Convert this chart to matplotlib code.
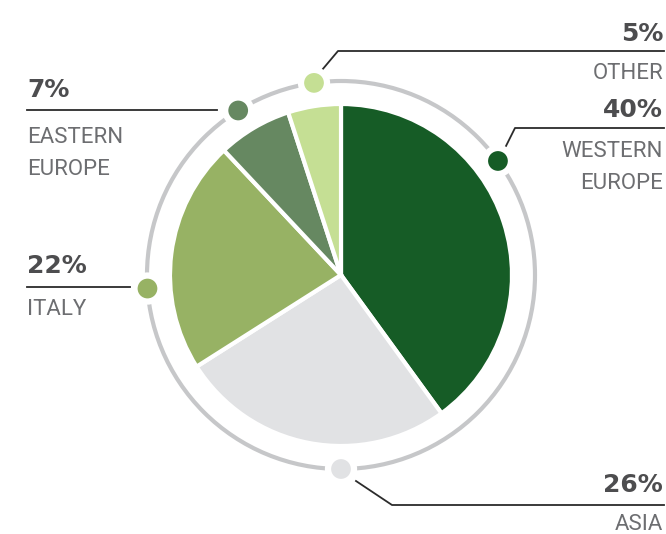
import numpy as np
import matplotlib.pyplot as plt
from matplotlib.patches import Circle

regions = ["WESTERN\nEUROPE", "ASIA", "ITALY", "EASTERN\nEUROPE", "OTHER"]
shares = [40, 26, 22, 7, 5]
colors = ["#165c26", "#e1e2e4", "#97b264", "#668861", "#c5df94"]

H = 534
fig = plt.figure(figsize=(6.66, 5.34), dpi=100)
ax = fig.add_axes([0, 0, 1, 1])

cx, cy, r = 341, H - 275, 171
ax.pie(shares, colors=colors, startangle=90, counterclock=False,
       center=(cx, cy), radius=r,
       wedgeprops=dict(edgecolor="white", linewidth=3))

# outer ring
ring_r = 194
ax.add_patch(Circle((cx, cy), ring_r, fill=False, edgecolor="#c6c7c9", linewidth=3, zorder=3))

# marker angles on the ring (degrees) and leader lines / labels (pixel coords)
dot_ang = [36, 270, 184, 122, 98]
leaders = [
    [(506, 146), (515, 128), (664, 128)],
    [(356, 481), (392, 505), (664, 505)],
    [(130, 287), (27, 287)],
    [(217, 110), (27, 110)],
    [(322, 70), (338, 51), (664, 51)],
]
# (x, baseline of pct, baseline of name, align)
text_pos = [
    (663, 117, 157, "right"),
    (663, 492, 530, "right"),
    (27, 273, 315, "left"),
    (27, 97, 143, "left"),
    (663, 41, 79, "right"),
]

for name, val, col, a, pts, tp in zip(regions, shares, colors, dot_ang, leaders, text_pos):
    t = np.deg2rad(a)
    dx, dy = cx + ring_r * np.cos(t), cy + ring_r * np.sin(t)
    ax.add_patch(Circle((dx, dy), 13, facecolor=col, edgecolor="white", linewidth=4.5, zorder=4))
    xs = [p[0] for p in pts]
    ys = [H - p[1] for p in pts]
    ax.plot(xs, ys, color="#2b2b2b", linewidth=1.3, zorder=2)
    x, yb1, yb2, ha = tp
    ax.text(x, H - yb1, f"{val}%", ha=ha, va="baseline", fontsize=18,
            fontweight="bold", color="#4d4d4f")
    lines = name.split("\n")
    for k, ln in enumerate(lines):
        ax.text(x, H - yb2 - 32 * k, ln, ha=ha, va="baseline", fontsize=16,
                family=["Roboto", "DejaVu Sans"], color="#6d6e71")

ax.set_xlim(0, 666)
ax.set_ylim(0, H)
ax.set_aspect("auto")
ax.axis("off")

plt.savefig("out.png", dpi=100)
